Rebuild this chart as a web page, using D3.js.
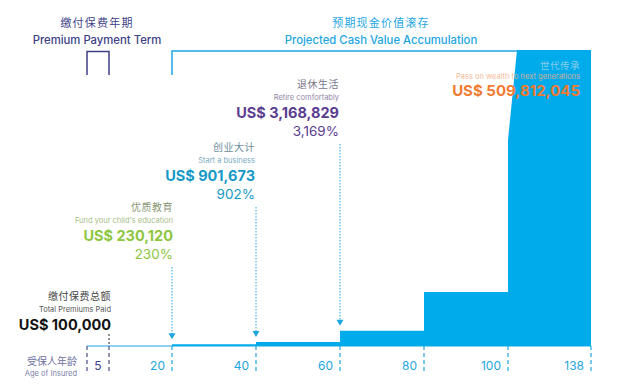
<!DOCTYPE html>
<html>
<head>
<meta charset="utf-8">
<script src="https://cdn.jsdelivr.net/npm/d3@7"></script>
<style>
  body { margin: 0; background: #fff; }
  text { font-family: Inter, "Noto Sans CJK SC", sans-serif; }
</style>
</head>
<body>
<svg id="main_svg"></svg>
<script>
const WIDTH = 622;
const HEIGHT = 384;

// axis
const ages = [0, 5, 20, 40, 60, 80, 100, 138];
const tickLabels = ['', '5', '20', '40', '60', '80', '100', '138'];

// projected cash value steps
const stepStart = [20, 40, 60, 80, 100];
const stepEnd = [40, 60, 80, 100, 138];
const stepValues = [100000, 230120, 901673, 3168829, 509812045];

// milestones
const premiumPaid = 100000;
const milestoneAge = [5, 20, 40, 60, 138];
const milestoneZh = ['缴付保费总额', '优质教育', '创业大计', '退休生活', '世代传承'];
const milestoneEn = ['Total Premiums Paid', "Fund your child's education", 'Start a business', 'Retire comfortably', 'Pass on wealth to next generations'];
const milestoneValue = [100000, 230120, 901673, 3168829, 509812045];
const milestoneShowPct = [false, true, true, true, false];

const NAVY = '#3d3f88';
const CYAN = '#1ea6df';
const BAR = '#00abec';
const milestoneColor = ['#111111', '#8dc63f', '#1699c6', '#5b3d90', '#f07b32'];
// layout: top of each text block, and offset of its right edge
const blockTop = [296, 207, 147, 84, 65];
const blockDx = [2, 1, -1, -1, -11];

const svg = d3.select('#main_svg').attr('width', WIDTH).attr('height', HEIGHT);

const BASE = 346;
const x = d3.scaleLinear()
	.domain(ages)
	.range([87, 109, 172, 256, 340, 424, 508, 591]);

const y = d3.scaleLinear()
	.domain([0, 3168829])
	.range([BASE, 292]);

const TOP = 50;
const yc = v => Math.max(TOP, y(v));

// header brackets
const header = (cx, zh, en, color) => {
	svg.append('text').attr('x', cx).attr('y', 27).attr('text-anchor', 'middle')
		.attr('font-size', 11).attr('letter-spacing', 1.2).attr('fill', color).text(zh);
	svg.append('text').attr('x', cx).attr('y', 44).attr('text-anchor', 'middle')
		.attr('font-size', 11.3).attr('font-weight', 500).attr('fill', color).text(en);
};
header(97, '缴付保费年期', 'Premium Payment Term', NAVY);
header(381, '预期现金价值滚存', 'Projected Cash Value Accumulation', CYAN);

svg.append('path')
	.attr('d', `M${x(0)},75 V51.5 H${x(5)} V75`)
	.attr('fill', 'none').attr('stroke', NAVY).attr('stroke-width', 1.5);
svg.append('path')
	.attr('d', `M${x(20)},75 V51 H${x(100) + 9}`)
	.attr('fill', 'none').attr('stroke', CYAN).attr('stroke-width', 1.5);

// axis baseline
svg.append('line')
	.attr('x1', x(0)).attr('x2', x(138)).attr('y1', BASE).attr('y2', BASE)
	.attr('stroke', CYAN).attr('stroke-width', 1);

// steps
const steps = stepValues.map((v, i) => ({ a: stepStart[i], b: stepEnd[i], v }));
svg.selectAll('.step')
	.data(steps)
	.enter()
	.append('path')
	.attr('class', 'step')
	.attr('fill', BAR)
	.attr('d', d => {
		const x0 = x(d.a), x1 = x(d.b), yt = yc(d.v);
		if (y(d.v) < TOP) {
			// value runs off the chart: slanted break on the left edge
			return `M${x0},${BASE} V140 L${x0 + 9},${yt} H${x1} V${BASE} Z`;
		}
		return `M${x0},${BASE} V${yt} H${x1} V${BASE} Z`;
	});

// tick dashes + labels
svg.selectAll('.tick')
	.data(ages)
	.enter()
	.append('line')
	.attr('x1', d => x(d)).attr('x2', d => x(d))
	.attr('y1', BASE).attr('y2', 372)
	.attr('stroke', d => d <= 5 ? '#4a4d86' : CYAN)
	.attr('stroke-width', 1.2)
	.attr('stroke-dasharray', '4,3');

svg.selectAll('.tlab')
	.data(ages.slice(1))
	.enter()
	.append('text')
	.attr('x', (d, i) => i === 0 ? (x(0) + x(5)) / 2 : x(d) - 7)
	.attr('y', 370)
	.attr('text-anchor', (d, i) => i === 0 ? 'middle' : 'end')
	.attr('font-size', 12)
	.attr('fill', (d, i) => i === 0 ? NAVY : CYAN)
	.text((d, i) => tickLabels[i + 1]);

svg.append('text').attr('x', 77).attr('y', 365).attr('text-anchor', 'end')
	.attr('font-size', 10).attr('fill', '#6e70a0').text('受保人年龄');
svg.append('text').attr('x', 77).attr('y', 376).attr('text-anchor', 'end')
	.attr('font-size', 7.5).attr('fill', '#7a7ca6').text('Age of Insured');

// milestone annotations
const stepValueAt = age => {
	const i = stepStart.indexOf(age);
	return i < 0 ? 0 : stepValues[i];
};
const fmt = d3.format(',');

milestoneAge.forEach((age, i) => {
	const c = milestoneColor[i];
	const rx = x(age) + blockDx[i];
	const t = blockTop[i];
	const legacy = i === milestoneAge.length - 1;
	const zhColor = i === 0 ? '#444' : d3.interpolateRgb(c, '#8a8a8a')(0.75);
	const enColor = i === 0 ? '#555' : d3.interpolateRgb(c, '#b8b8b8')(0.6);
	const g = svg.append('g').attr('text-anchor', 'end');

	g.append('text').attr('x', rx).attr('y', t + 4).attr('font-size', legacy ? 9.5 : 10)
		.attr('letter-spacing', 0.5)
		.attr('fill', legacy ? '#8ccbe9' : zhColor).text(milestoneZh[i]);
	g.append('text').attr('x', rx).attr('y', t + (legacy ? 14 : 16)).attr('font-size', 7.5)
		.attr('fill', legacy ? '#f3ae85' : enColor)
		.attr('opacity', legacy ? 0.85 : 1).text(milestoneEn[i]);
	g.append('text').attr('x', rx).attr('y', t + (legacy ? 31 : 34))
		.attr('font-size', legacy ? 15 : 14.5).attr('font-weight', 700)
		.attr('fill', c).text('US$ ' + fmt(milestoneValue[i]));
	if (milestoneShowPct[i]) {
		g.append('text').attr('x', rx).attr('y', t + 52).attr('font-size', 13.5)
			.attr('fill', c).text(fmt(Math.round(milestoneValue[i] / premiumPaid * 100)) + '%');
	}

	if (i === 0) {
		svg.append('line').attr('x1', x(age)).attr('x2', x(age))
			.attr('y1', t + 38).attr('y2', BASE)
			.attr('stroke', '#222').attr('stroke-width', 1).attr('stroke-dasharray', '2,2');
	} else if (!legacy) {
		const tip = y(stepValueAt(age)) - 5;
		svg.append('line').attr('x1', x(age)).attr('x2', x(age))
			.attr('y1', t + 60).attr('y2', tip - 4)
			.attr('stroke', CYAN).attr('stroke-width', 1).attr('stroke-dasharray', '1.5,1.5');
		svg.append('path')
			.attr('d', `M${x(age) - 3.5},${tip - 6} H${x(age) + 3.5} L${x(age)},${tip} Z`)
			.attr('fill', CYAN);
	}
});
</script>
</body>
</html>
